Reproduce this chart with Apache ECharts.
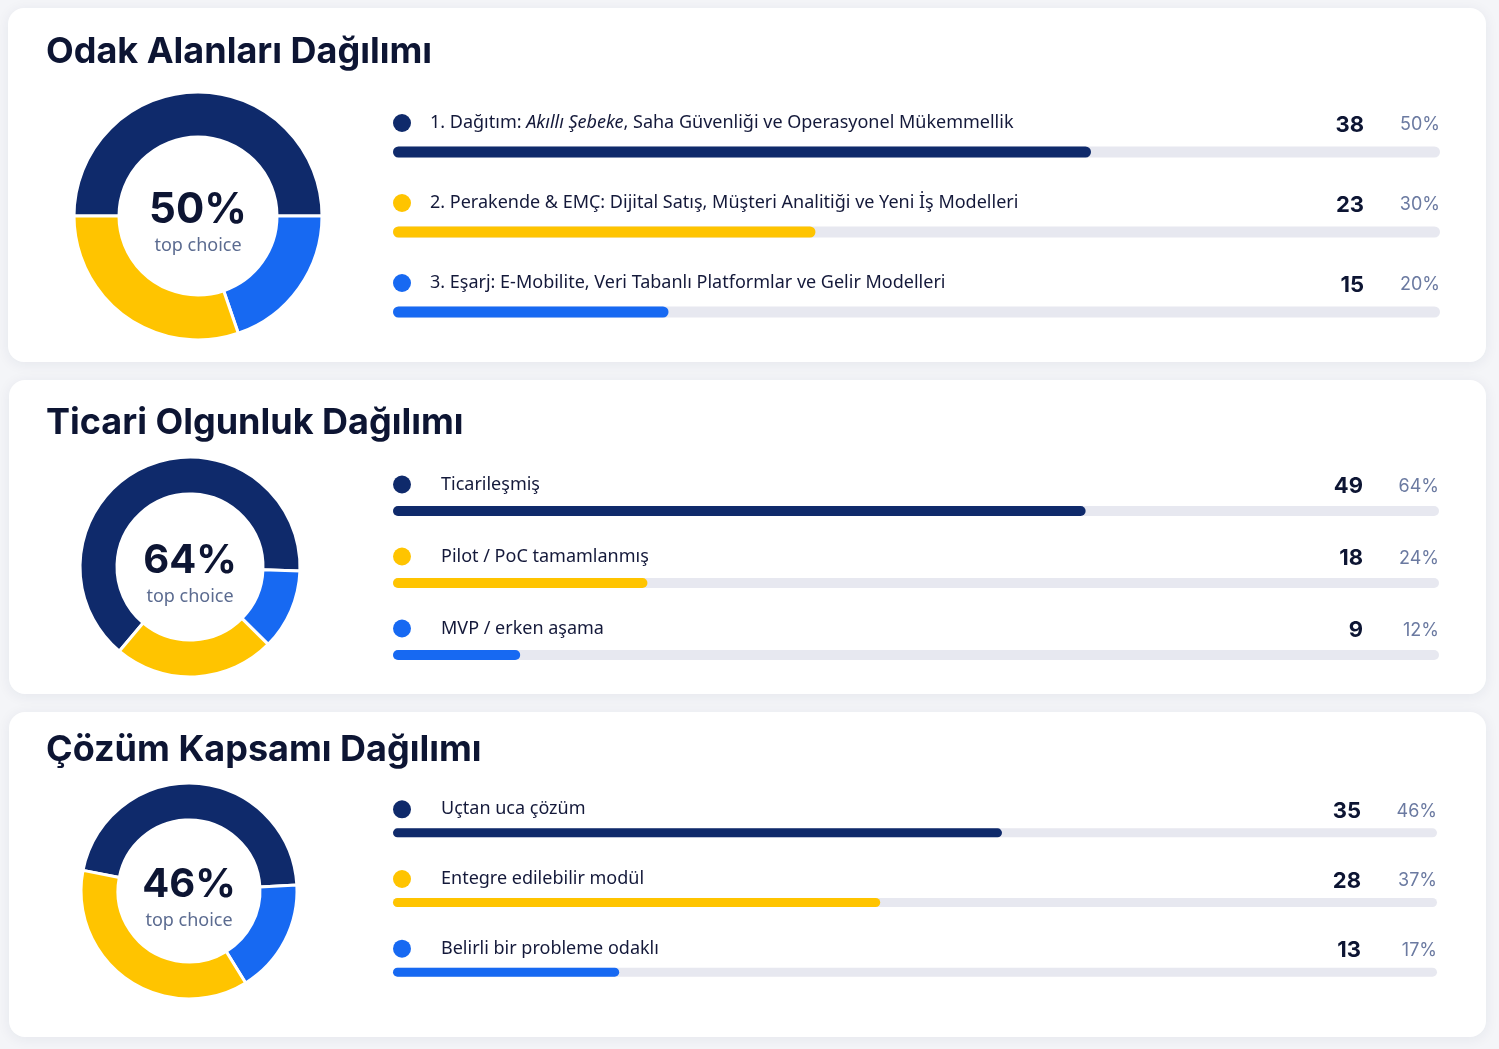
<!DOCTYPE html>
<html>
<head>
<meta charset="utf-8">
<script src="https://cdn.jsdelivr.net/npm/echarts@6/dist/echarts.min.js"></script>
<style>
  html, body { margin: 0; padding: 0; background: #f4f5f8; }
  #main { width: 1499px; height: 1049px; }
</style>
</head>
<body>
<div id="main"></div>
<script>
// card titles
var cardTitles = ['Odak Alanları Dağılımı', 'Ticari Olgunluk Dağılımı', 'Çözüm Kapsamı Dağılımı'];

// card 1 - odak alanlari
var focusLabels = [
  '1. Dağıtım: Akıllı Şebeke, Saha Güvenliği ve Operasyonel Mükemmellik',
  '2. Perakende & EMÇ: Dijital Satış, Müşteri Analitiği ve Yeni İş Modelleri',
  '3. Eşarj: E-Mobilite, Veri Tabanlı Platformlar ve Gelir Modelleri'
];
var focusCounts = [38, 23, 15];
var focusPcts = [50, 30, 20];

// card 2 - ticari olgunluk
var maturityLabels = ['Ticarileşmiş', 'Pilot / PoC tamamlanmış', 'MVP / erken aşama'];
var maturityCounts = [49, 18, 9];
var maturityPcts = [64, 24, 12];

// card 3 - cozum kapsami
var scopeLabels = ['Uçtan uca çözüm', 'Entegre edilebilir modül', 'Belirli bir probleme odaklı'];
var scopeCounts = [35, 28, 13];
var scopePcts = [46, 37, 17];

var centerCaption = 'top choice';
var colors = ['#0f2a6b', '#ffc400', '#1769f2'];

var cards = [
  { labels: focusLabels, counts: focusCounts, pcts: focusPcts },
  { labels: maturityLabels, counts: maturityCounts, pcts: maturityPcts },
  { labels: scopeLabels, counts: scopeCounts, pcts: scopePcts }
];

// layout for each card (px)
var layout = [
  { card: [8, 8, 1478, 354], titleTop: 30, gridTop: 112, gridH: 240, right: 59, barW: 11, lift: 58, gap: 19,
    center: [198, 216], radius: [79, 124], start: 180, axisMax: 57, big: 42 },
  { card: [9, 380, 1477, 314], titleTop: 401, gridTop: 475, gridH: 216, right: 60, barW: 10, lift: 53, gap: 30,
    center: [190, 567], radius: [73, 110], start: 230, axisMax: 74, big: 40 },
  { card: [9, 712, 1477, 325], titleTop: 728, gridTop: 798, gridH: 209, right: 62, barW: 9, lift: 47, gap: 30,
    center: [189, 891], radius: [71, 108], start: 169, axisMax: 60, big: 40 }
];

var fontMain = '"Noto Sans", sans-serif';
var fontHead = 'Inter, "Noto Sans", sans-serif';

var myChart = echarts.init(document.getElementById('main'), null, { renderer: 'canvas' });

var option = {
  backgroundColor: '#f4f5f8',
  animation: false,
  title: [],
  graphic: [],
  grid: [],
  xAxis: [],
  yAxis: [],
  series: []
};

cards.forEach(function (c, k) {
  var L = layout[k];

  option.graphic.push({
    type: 'rect',
    z: -10,
    silent: true,
    shape: { x: L.card[0], y: L.card[1], width: L.card[2], height: L.card[3], r: 16 },
    style: { fill: '#ffffff', shadowBlur: 14, shadowColor: 'rgba(30,40,80,0.07)', shadowOffsetY: 2 }
  });

  option.title.push({
    text: cardTitles[k],
    left: 46,
    top: L.titleTop,
    padding: 0,
    textStyle: { fontFamily: fontHead, fontSize: 36, fontWeight: 700, color: '#0d1533', lineHeight: 44 }
  });

  option.grid.push({ left: 393, right: L.right, top: L.gridTop, height: L.gridH, containLabel: false });

  option.xAxis.push({
    gridIndex: k, type: 'value', min: 0, max: L.axisMax,
    show: false, splitLine: { show: false }
  });

  // dot + label on the left
  var rich = {
    t: { fontFamily: fontMain, fontSize: 18, color: '#14193a', padding: [0, 0, 0, L.gap] },
    i: { fontFamily: fontMain, fontSize: 18, color: '#14193a', fontStyle: 'italic' },
    n: { fontFamily: fontMain, fontSize: 18, color: '#14193a' }
  };
  colors.forEach(function (col, j) {
    rich['d' + j] = { width: 18, height: 18, borderRadius: 9, backgroundColor: col };
  });

  option.yAxis.push({
    gridIndex: k, type: 'category', inverse: true, data: c.labels,
    axisLine: { show: false }, axisTick: { show: false },
    axisLabel: {
      inside: true, margin: 0, interval: 0, align: 'left',
      padding: [0, 0, L.lift, 0],
      formatter: function (v, i) {
        var key = 'Akıllı Şebeke';
        var pos = v.indexOf(key);
        if (pos >= 0) {
          return '{d' + i + '|}{t|' + v.slice(0, pos) + '}{i|' + key + '}' +
            '{n|' + v.slice(pos + key.length) + '}';
        }
        return '{d' + i + '|}{t|' + v + '}';
      },
      rich: rich
    }
  });

  // count + percent on the right
  option.yAxis.push({
    gridIndex: k, type: 'category', inverse: true, position: 'right', data: c.labels,
    axisLine: { show: false }, axisTick: { show: false },
    axisLabel: {
      margin: 0, interval: 0, align: 'right',
      padding: [0, 0, L.lift - 4, 0],
      formatter: function (v, i) {
        return '{c|' + c.counts[i] + '}{p|' + c.pcts[i] + '%}';
      },
      rich: {
        c: { fontFamily: fontHead, fontSize: 22, fontWeight: 700, color: '#0d1533' },
        p: { fontFamily: fontHead, fontSize: 18, color: '#6b7aa1', width: 76, align: 'right' }
      }
    }
  });

  option.series.push({
    type: 'bar',
    xAxisIndex: k,
    yAxisIndex: k * 2,
    barWidth: L.barW,
    silent: true,
    showBackground: true,
    backgroundStyle: { color: '#e7e8f0', borderRadius: L.barW / 2 },
    data: c.counts.map(function (v, i) {
      return { value: v, itemStyle: { color: colors[i], borderRadius: L.barW / 2 } };
    })
  });

  // donut: dark, blue, yellow clockwise
  var order = [0, 2, 1];
  option.series.push({
    type: 'pie',
    center: L.center,
    radius: L.radius,
    startAngle: L.start,
    clockwise: true,
    silent: true,
    avoidLabelOverlap: false,
    label: { show: false },
    labelLine: { show: false },
    itemStyle: { borderColor: '#ffffff', borderWidth: 3 },
    data: order.map(function (j, n) {
      var item = { name: c.labels[j], value: c.counts[j], itemStyle: { color: colors[j] } };
      if (n === 0) {
        item.label = {
          show: true, position: 'center', offset: [0, 8],
          formatter: '{v|' + c.pcts[0] + '%}\n{s|' + centerCaption + '}',
          rich: {
            v: { fontFamily: fontHead, fontSize: L.big, fontWeight: 700, color: '#0d1533', lineHeight: 44 },
            s: { fontFamily: fontMain, fontSize: 18, color: '#5b6b90', lineHeight: 28 }
          }
        };
      }
      return item;
    })
  });
});

myChart.setOption(option);
</script>
</body>
</html>
